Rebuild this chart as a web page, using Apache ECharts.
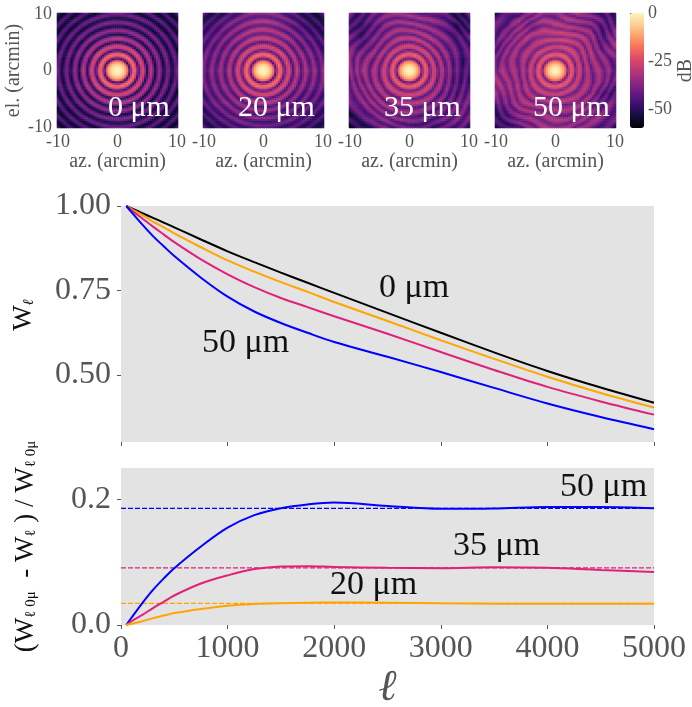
<!DOCTYPE html>
<html><head><meta charset="utf-8">
<style>html,body{margin:0;padding:0;background:#fff}#c{width:692px;height:707px}</style>
<script src="https://cdn.jsdelivr.net/npm/echarts@6/dist/echarts.min.js"></script>
</head><body><div id="c"></div>
<script>
// ---- line chart values
const ells = [50,100,200,300,400,500,750,1000,1250,1500,1750,2000,2500,3000,3500,4000,4500,5000];
const W0  = [1,.993,.979,.965,.951,.937,.901,.866,.834,.803,.773,.743,.684,.625,.567,.512,.463,.418];
const W20 = [1,.991,.973,.954,.937,.919,.878,.839,.806,.775,.746,.716,.660,.603,.548,.495,.447,.404];
const W35 = [1,.987,.963,.939,.916,.893,.842,.798,.760,.728,.701,.674,.622,.568,.515,.465,.422,.383];
const W50 = [1,.981,.945,.911,.881,.852,.788,.732,.688,.654,.625,.598,.554,.509,.462,.416,.376,.340];
const R20 = [0,.002,.006,.011,.015,.019,.0255,.0307,.0335,.0348,.0355,.0358,.0353,.0345,.034,.0338,.0338,.0338];
const R35 = [0,.006,.016,.027,.037,.047,.066,.079,.089,.0932,.0937,.0925,.091,.0905,.092,.0912,.0875,.0845];
const R50 = [0,.012,.035,.056,.074,.0905,.125,.155,.175,.186,.192,.195,.1895,.185,.1855,.188,.188,.186];
const level20 = .0344, level35 = .091, level50 = .1857;
const topTicks = [.5,.75,1], lowTicks = [0,.2], barTicks = [0,-25,-50];
const colors = {k:'#000000', o:'#ffa500', m:'#e0207a', b:'#0000ff'};
// ---- beam maps: radial dB profile (one entry per 0.355 arcmin) read along the radius of each panel
const ring0  = [0,-0.6,-2.5,-6,-11,-20,-52,-26,-18,-26,-52,-32,-24,-32,-54,-38,-30,-38,-55,-42,-34,-42,-56,-45,-37,-45,-56,-47,-39,-47,-57,-49,-41,-49,-57,-51,-43,-51,-58,-52,-45];
const ring20 = [0,-.7,-2.8,-6.5,-11.5,-20,-48,-25,-18,-25,-46,-31,-24,-31,-47,-36,-29,-36,-47,-39,-32,-39,-48,-41,-34,-41,-48,-43,-36,-43,-49,-45,-38,-45,-50,-47,-40,-47,-50,-48,-42];
const ring35 = [0,-.8,-3,-7,-12,-20,-46,-27,-20,-27,-44,-31,-25,-31,-45,-35,-29,-35,-46,-37,-31,-37,-46,-39,-33,-39,-47,-40,-34,-40,-47,-41,-35,-41,-48,-42,-36,-42,-48,-43,-37];
const ring50 = [0,-.9,-3.3,-7.5,-12.5,-20,-42,-27,-21,-27,-41,-31,-26,-31,-42,-34,-29,-34,-43,-35,-30,-35,-43,-36,-31,-36,-44,-37,-32,-37,-44,-37,-32,-37,-45,-38,-33,-38,-45,-39,-34];
// coarse brightness offsets (dB) on a 2-arcmin lattice, top row el=+10, left col az=-10
const zero = Array.from({length:11},()=>[0,0,0,0,0,0,0,0,0,0,0]);
const lev20 = [
[-4,-4,-2,0,2,3,2,0,-3,-5,-6],[-2,-1,2,3,4,5,4,1,-2,-4,-4],[-1,0,1,2,3,3,3,2,0,-2,-3],
[0,0,0,0,0,0,0,1,0,0,-2],[1,0,0,0,0,0,0,0,1,1,0],[1,1,0,0,0,0,0,0,1,3,2],
[0,0,0,0,0,0,0,0,0,1,1],[-1,0,0,0,0,0,0,-1,-1,-2,0],[-2,1,1,0,0,0,-1,-2,-2,-1,-1],
[-3,-1,0,1,0,-1,-2,-2,-1,-1,-3],[-5,-3,-2,-1,-2,-3,-3,-2,-2,-3,-5]];
const lev35 = [
[-6,-4,-1,1,2,3,2,1,-3,-9,-7],[-3,-6,-3,1,2,2,3,2,-1,-9,-6],[-1,-7,-1,0,1,1,2,2,0,-6,-4],
[1,-3,0,0,0,0,1,1,0,-3,-4],[2,1,0,0,0,0,0,0,0,-4,-7],[3,2,0,0,0,0,0,0,0,-4,-6],
[1,1,0,0,0,0,0,0,-1,-6,-4],[1,2,1,0,0,0,0,0,-3,-4,-1],[-3,2,3,1,0,0,0,-1,-4,0,1],
[-9,-4,1,2,0,-1,-3,-4,-1,1,0],[-10,-9,-3,0,-3,-3,-4,-6,-3,-1,-4]];
const lev50 = [
[-9,-7,-3,0,1,-2,2,1,-2,-6,-9],[-4,-3,3,-4,2,3,3,1,0,-7,-4],[-4,-1,1,2,3,4,5,3,1,-8,2],
[-6,0,1,0,1,0,2,1,2,-4,3],[-3,0,0,0,0,0,0,0,1,0,-4],[2,1,0,0,0,0,0,0,0,0,-3],
[4,2,0,0,0,0,0,0,0,-1,-4],[2,1,1,0,0,0,0,0,0,-7,-9],[-6,-3,2,1,0,0,0,1,-2,-4,-1],
[-10,-7,0,2,1,0,-1,1,2,0,-3],[-11,-10,-4,-1,2,3,1,-1,0,-4,-9]];
// coarse ring displacement (arcmin) on the same lattice
const warp20 = [
[.3,.2,0,-.2,-.3,-.3,-.2,0,.2,.3,.3],[.2,.1,0,-.1,-.2,-.2,-.1,0,.1,.2,.3],[.1,.1,0,0,-.1,-.1,0,0,.1,.2,.2],
[0,0,0,0,0,0,0,0,.1,.1,.1],[-.1,0,0,0,0,0,0,0,0,0,0],[-.2,-.1,0,0,0,0,0,0,0,-.1,-.1],
[-.2,-.1,0,0,0,0,0,0,0,-.1,-.2],[-.1,-.1,0,0,0,0,0,0,0,-.1,-.2],[0,0,.1,0,0,0,0,0,0,0,-.1],
[.2,.2,.1,.1,.1,.1,.1,.1,.1,.1,0],[.4,.3,.3,.2,.2,.2,.2,.2,.2,.2,.1]];
const warp35 = [
[.6,.2,-.3,-.5,-.2,.3,.5,.1,-.4,-.2,.4],[.3,.5,.1,-.4,-.4,.1,.4,.3,-.2,-.5,.1],[-.2,.4,.4,0,-.2,-.1,.2,.4,.1,-.4,-.3],
[-.5,0,.4,.2,0,-.1,.1,.3,.3,-.1,-.5],[-.3,-.4,.1,.2,0,0,0,.2,.3,.3,-.2],[.2,-.5,-.2,.1,0,0,0,.1,.2,.5,.3],
[.5,-.1,-.3,-.1,0,0,0,-.1,.1,.3,.5],[.3,.4,-.2,-.3,-.1,0,-.1,-.2,-.2,.2,.4],[-.2,.5,.2,-.3,-.3,-.1,-.2,-.4,-.3,-.1,.2],
[-.5,.1,.5,.1,-.3,-.4,-.4,-.3,-.5,-.3,-.2],[-.4,-.3,.3,.5,.1,-.3,-.5,-.1,-.2,-.5,-.5]];
const warp50 = [
[-.7,-.2,.6,.3,-.6,-.3,.5,.7,.1,-.6,-.3],[-.1,.6,.5,-.4,-.5,.3,.6,.2,-.5,-.3,.5],[.6,.5,-.2,-.5,.1,.4,.2,-.3,-.4,.4,.7],
[.4,-.3,-.5,.1,.3,.1,-.2,-.4,.2,.6,.2],[-.4,-.6,-.1,.3,.1,0,-.1,.1,.5,.1,-.5],[-.6,-.1,.4,.2,0,0,0,.3,.3,-.4,-.6],
[.1,.5,.4,0,0,0,.1,.2,-.2,-.6,-.1],[.6,.4,-.2,-.3,-.1,.1,.2,-.2,-.5,.1,.6],[.3,-.3,-.6,-.2,.3,.4,.1,-.4,.1,.6,.3],
[-.4,-.6,-.1,.5,.5,0,-.4,-.2,.5,.3,-.4],[-.7,-.1,.6,.4,-.2,-.5,-.3,.4,.2,-.5,-.7]];
const panelLabels = ['0 μm','20 μm','35 μm','50 μm'];
const panels = [[ring0,zero,zero],[ring20,lev20,warp20],[ring35,lev35,warp35],[ring50,lev50,warp50]];
const panelLeft = [57,203,349,495];
const arcTicks = ['-10','0','10'];
const N = 61;
const ax = Array.from({length:N},(_,i)=>String(Math.round((i-30)/3*100)/100));

function bil(g,x,y){ // lattice lookup
  const c=(x+10)/2, r=(10-y)/2;
  const c0=Math.min(9,Math.floor(c)), r0=Math.min(9,Math.floor(r));
  const a=c-c0,b=r-r0;
  return g[r0][c0]*(1-a)*(1-b)+g[r0][c0+1]*a*(1-b)+g[r0+1][c0]*(1-a)*b+g[r0+1][c0+1]*a*b;
}
function cells(p){
  const [ring,lev,warp]=p, out=[];
  for(let i=0;i<N;i++)for(let j=0;j<N;j++){
    const x=(i-30)/3,y=(j-30)/3,r=Math.hypot(x,y);
    const rr=Math.max(0,r+bil(warp,x,y)*Math.min(1,r/6))/0.355;
    const k=Math.min(39,Math.floor(rr)),f=rr-k;
    const v=ring[k]*(1-f)+ring[k+1]*f+bil(lev,x,y)*Math.min(1,r/4);
    out.push([i,j,Math.max(-60,Math.min(0,v))]);
  }
  return out;
}
const gray='#555555', serif='"Liberation Serif","Times New Roman",serif';
const showTick=(i)=>i%30===0;
const grid=[],xAxis=[],yAxis=[],series=[],graphic=[];
const G=(o)=>Object.assign({outerBoundsMode:'none'},o);
panels.forEach((p,n)=>{
  grid.push(G({left:panelLeft[n],top:13,width:121,height:115}));
  xAxis.push({type:'category',gridIndex:n,data:ax,axisLine:{show:false},splitLine:{show:false},
    axisTick:{alignWithLabel:true,interval:showTick,length:3,lineStyle:{color:gray}},
    axisLabel:{interval:showTick,margin:5,fontFamily:serif,fontSize:18,color:gray,hideOverlap:false,formatter:v=>arcTicks.includes(v)?v:''},
    name:'az. (arcmin)',nameLocation:'middle',nameGap:24,nameTextStyle:{fontFamily:serif,fontSize:20,color:gray}});
  yAxis.push({type:'category',gridIndex:n,data:ax,axisLine:{show:false},splitLine:{show:false},
    axisTick:{alignWithLabel:true,interval:showTick,length:3,lineStyle:{color:gray}},
    axisLabel:{show:n===0,interval:showTick,margin:5,fontFamily:serif,fontSize:18,color:gray,formatter:v=>arcTicks.includes(v)?v:''},
    name:n===0?'el. (arcmin)':'',nameLocation:'middle',nameGap:29,nameTextStyle:{fontFamily:serif,fontSize:20,color:gray}});
  series.push({type:'heatmap',xAxisIndex:n,yAxisIndex:n,data:cells(p),progressive:0,silent:true,animation:false});
  graphic.push({type:'text',z:100,silent:true,style:{text:panelLabels[n],x:[108,238,384,533][n],y:108,font:'30px '+serif,fill:'#ffffff',textVerticalAlign:'middle'}});
});
const heatIdx=series.map((_,i)=>i);
// colour bar axis
grid.push(G({left:630,top:13,width:14,height:115}));
xAxis.push({type:'value',gridIndex:4,show:false,min:0,max:1});
yAxis.push({type:'value',gridIndex:4,position:'right',min:-60,max:0,axisLine:{show:false},splitLine:{show:false},
  axisTick:{length:4,customValues:barTicks,lineStyle:{color:gray}},
  axisLabel:{customValues:barTicks,margin:4,fontFamily:serif,fontSize:18,color:gray},
  name:'dB',nameLocation:'middle',nameRotate:90,nameGap:29,nameTextStyle:{fontFamily:serif,fontSize:20,color:gray}});
// main
const xTickAxis=(g,labels,extra)=>Object.assign({type:'value',gridIndex:g,min:0,max:5000,interval:1000,
  axisLine:{show:false},splitLine:{show:false},axisTick:{length:4,lineStyle:{color:gray}},
  axisLabel:{show:labels,margin:8,fontFamily:serif,fontSize:32,color:gray,formatter:v=>String(v)}},extra||{});
grid.push(G({left:121,top:206,width:533,height:236,backgroundColor:'#e3e3e3',show:true,borderWidth:0}));
xAxis.push(xTickAxis(5,false));
yAxis.push({type:'value',gridIndex:5,min:.302,max:1,axisLine:{show:false},splitLine:{show:false},
  axisTick:{length:4,customValues:topTicks,lineStyle:{color:gray}},
  axisLabel:{customValues:topTicks,margin:10,fontFamily:serif,fontSize:32,color:gray,formatter:v=>v.toFixed(2)},
  name:'{a|W}{b|ℓ}',nameLocation:'middle',nameGap:84,nameRotate:90,
  nameTextStyle:{padding:[0,0,0,18],rich:{a:{fontFamily:serif,fontSize:27,color:'#111'},b:{fontFamily:serif,fontStyle:'italic',fontSize:15,color:'#111',verticalAlign:'bottom'}}}});
grid.push(G({left:121,top:468,width:533,height:157,backgroundColor:'#e3e3e3',show:true,borderWidth:0}));
xAxis.push(xTickAxis(6,true,{name:'ℓ',nameLocation:'middle',nameGap:41,nameTextStyle:{fontFamily:serif,fontStyle:'italic',fontSize:44,color:gray}}));
yAxis.push({type:'value',gridIndex:6,min:0,max:.25,axisLine:{show:false},splitLine:{show:false},
  axisTick:{length:4,customValues:lowTicks,lineStyle:{color:gray}},
  axisLabel:{customValues:lowTicks,margin:10,fontFamily:serif,fontSize:32,color:gray,formatter:v=>v.toFixed(1)},
  name:'{a|(W}{b|ℓ 0μ}{a|  - W}{b|ℓ}{a| ) / W}{b|ℓ 0μ}',nameLocation:'middle',nameGap:82,nameRotate:90,
  nameTextStyle:{rich:{a:{fontFamily:serif,fontSize:27,color:'#111'},b:{fontFamily:serif,fontSize:15,color:'#111',verticalAlign:'bottom'}}}});
const pairs=(ys)=>ells.map((e,i)=>[e,ys[i]]);
const line=(name,g,ys,c)=>({name,type:'line',xAxisIndex:g,yAxisIndex:g,data:pairs(ys),smooth:.35,showSymbol:false,lineStyle:{color:c,width:2},itemStyle:{color:c},animation:false,silent:true});
const dash=(g,lv,c)=>({type:'line',xAxisIndex:g,yAxisIndex:g,data:[[0,lv],[5000,lv]],showSymbol:false,lineStyle:{color:c,width:1.3,type:[5,2]},animation:false,silent:true});
series.push(line('0 μm',5,W0,colors.k),line('20 μm',5,W20,colors.o),line('35 μm',5,W35,colors.m),line('50 μm',5,W50,colors.b));
series.push(dash(6,level50,colors.b),dash(6,level35,colors.m),dash(6,level20,colors.o));
series.push(line('50 μm',6,R50,colors.b),line('35 μm',6,R35,colors.m),line('20 μm',6,R20,colors.o));
[['0 μm',379,288],['50 μm',202,343],['50 μm',560,487],['35 μm',453,546],['20 μm',330,585]].forEach(t=>{
  graphic.push({type:'text',z:100,silent:true,style:{text:t[0],x:t[1],y:t[2],font:'34px '+serif,fill:'#111111',textVerticalAlign:'middle'}});
});
const chart=echarts.init(document.getElementById('c'),null,{renderer:'canvas'});
chart.setOption({animation:false,backgroundColor:'#fff',grid,xAxis,yAxis,series,graphic,
  visualMap:[{type:'continuous',seriesIndex:heatIdx,dimension:2,min:-60,max:0,calculable:false,realtime:false,hoverLink:false,
    left:630,top:13,itemWidth:14,itemHeight:115,padding:0,text:null,showLabel:false,
    inRange:{color:['#000004','#140e36','#3b0f70','#641a80','#8c2981','#b73779','#de4968','#f7705c','#fe9f6d','#fecf92','#fcf5bf']}}]});
</script></body></html>
